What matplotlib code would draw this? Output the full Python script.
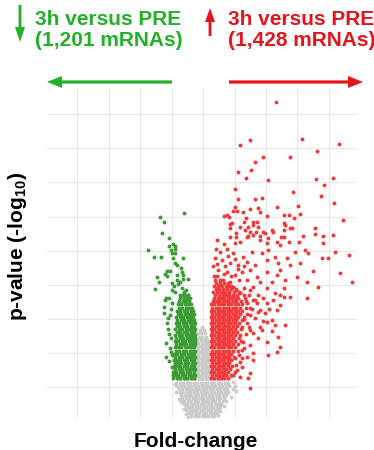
import matplotlib
matplotlib.use("Agg")
import matplotlib.pyplot as plt
from matplotlib.patches import FancyArrow
from matplotlib.transforms import IdentityTransform

plt.rcParams['font.family'] = ['Liberation Sans', 'DejaVu Sans']
plt.rcParams['mathtext.fontset'] = 'custom'
plt.rcParams['mathtext.rm'] = 'Liberation Sans:bold'
plt.rcParams['mathtext.bf'] = 'Liberation Sans:bold'
plt.rcParams['mathtext.default'] = 'rm'

# ---------------- data (log2 fold-change, -log10 p) ----------------
title_down = ["3h versus PRE", "(1,201 mRNAs)"]
title_up = ["3h versus PRE", "(1,428 mRNAs)"]
x_label = "Fold-change"
y_label = "p-value (-log$_{10}$)"
x_grid = [-4, -3, -2, -1, 0, 1, 2, 3, 4]
y_grid = [1, 2, 3, 4, 5, 6, 7, 8, 9]

# non-significant genes (grey): rows of (p, [fold-changes])
grey_rows = [
    (0.14, [-0.38, -0.27, -0.16, -0.05, 0.06, 0.17, 0.28, 0.36]),
    (0.23, [-0.45, -0.34, -0.23, -0.12, -0.01, 0.10, 0.21, 0.32, 0.42]),
    (0.32, [-0.50, -0.40, -0.29, -0.18, -0.07, 0.04, 0.15, 0.26, 0.37, 0.47]),
    (0.41, [-0.56, -0.45, -0.34, -0.23, -0.12, -0.01, 0.10, 0.21, 0.32, 0.43, 0.53]),
    (0.50, [-0.62, -0.51, -0.40, -0.29, -0.18, -0.07, 0.04, 0.15, 0.26, 0.37, 0.48, 0.58]),
    (0.59, [-0.60, -0.49, -0.38, -0.27, -0.16, -0.05, 0.06, 0.17, 0.28, 0.39, 0.50, 0.62]),
    (0.68, [-0.66, -0.55, -0.44, -0.33, -0.22, -0.11, 0.00, 0.11, 0.22, 0.33, 0.44, 0.55, 0.66]),
    (0.77, [-0.70, -0.59, -0.48, -0.37, -0.26, -0.15, -0.04, 0.07, 0.18, 0.29, 0.40, 0.51, 0.62, 0.72]),
    (0.86, [-0.74, -0.63, -0.52, -0.41, -0.30, -0.19, -0.08, 0.03, 0.14, 0.25, 0.36, 0.47, 0.58, 0.69, 0.80]),
    (0.95, [-0.78, -0.67, -0.56, -0.45, -0.34, -0.23, -0.12, -0.01, 0.10, 0.21, 0.32, 0.43, 0.54, 0.65, 0.76, 0.95]),
    (1.04, [-0.82, -0.71, -0.60, -0.49, -0.38, -0.27, -0.16, -0.05, 0.06, 0.17, 0.28, 0.39, 0.50, 0.61, 0.72, 0.84, 1.00]),
    (1.13, [-0.85, -0.74, -0.63, -0.52, -0.41, -0.30, -0.19, -0.08, 0.03, 0.14, 0.25, 0.36, 0.47, 0.58, 0.69, 0.80]),
    (1.22, [-0.80, -0.69, -0.58, -0.47, -0.36, -0.25, -0.14, -0.03, 0.08, 0.19, 0.30, 0.41, 0.52, 0.63, 0.76]),
    (1.31, [-0.20, -0.10, 0.00, 0.10, 0.18]),
    (1.40, [-0.16, -0.05, 0.05, 0.15]),
    (1.49, [-0.21, -0.10, 0.00, 0.10, 0.19]),
    (1.58, [-0.15, -0.05, 0.05, 0.15]),
    (1.67, [-0.20, -0.10, 0.00, 0.10, 0.18]),
    (1.76, [-0.16, -0.05, 0.05, 0.15]),
    (1.85, [-0.21, -0.10, 0.00, 0.10, 0.19]),
    (1.94, [-0.15, -0.05, 0.05, 0.15]),
    (2.03, [-0.20, -0.10, 0.00, 0.10, 0.18]),
    (2.12, [-0.16, -0.05, 0.05, 0.15]),
    (2.21, [-0.20, -0.10, 0.00, 0.10, 0.18]),
    (2.30, [-0.15, -0.05, 0.05, 0.15]),
    (2.39, [-0.18, -0.08, 0.02, 0.12]),
    (2.48, [-0.13, -0.02, 0.10]),
    (2.57, [-0.17, -0.06, 0.06]),
    (2.66, [-0.10, 0.02]),
    (2.76, [-0.05]),
]
grey_sparse = [
    (-0.70, 0.55), (0.68, 0.45), (-0.55, 0.22), (0.55, 0.30), (0.90, 0.70),
    (-0.85, 0.85), (1.05, 0.88), (0.95, 1.15), (-0.90, 1.08), (-0.62, 0.36),
    (0.72, 0.60), (-0.76, 0.66), (0.46, 0.18), (-0.48, 0.12), (0.88, 1.28),
]

# down-regulated genes (green), dense band rows + sparse points
green_rows = [
    (1.27, [-0.95, -0.84, -0.73, -0.62, -0.51, -0.40, -0.29]),
    (1.35, [-0.90, -0.79, -0.67, -0.57, -0.45, -0.34, -0.26]),
    (1.44, [-0.96, -0.85, -0.74, -0.63, -0.52, -0.41, -0.30]),
    (1.53, [-0.89, -0.78, -0.68, -0.56, -0.46, -0.35, -0.26]),
    (1.62, [-0.94, -0.83, -0.72, -0.61, -0.50, -0.39, -0.28]),
    (1.71, [-0.90, -0.80, -0.69, -0.58, -0.47, -0.36, -0.26]),
    (1.80, [-0.93, -0.84, -0.73, -0.62, -0.51, -0.40, -0.29]),
    (1.89, [-0.88, -0.77, -0.66, -0.55, -0.44, -0.34, -0.26]),
    (1.98, [-0.92, -0.82, -0.71, -0.60, -0.49, -0.38, -0.28]),
    (2.07, [-0.87, -0.76, -0.65, -0.54, -0.43, -0.33, -0.26]),
    (2.16, [-0.91, -0.80, -0.70, -0.59, -0.48, -0.37, -0.28]),
    (2.25, [-0.86, -0.75, -0.64, -0.53, -0.42, -0.32, -0.26]),
    (2.34, [-0.90, -0.79, -0.68, -0.57, -0.46, -0.36, -0.27]),
    (2.43, [-0.85, -0.74, -0.63, -0.52, -0.41, -0.31, -0.26]),
    (2.52, [-0.89, -0.78, -0.67, -0.56, -0.45, -0.35, -0.27]),
    (2.61, [-0.84, -0.73, -0.62, -0.51, -0.40, -0.30]),
    (2.70, [-0.88, -0.77, -0.66, -0.55, -0.44, -0.34, -0.27]),
    (2.79, [-0.83, -0.72, -0.61, -0.50, -0.39, -0.29]),
    (2.88, [-0.87, -0.76, -0.65, -0.54, -0.43, -0.33, -0.27]),
    (2.97, [-0.82, -0.71, -0.60, -0.49, -0.38, -0.29]),
    (3.06, [-0.85, -0.74, -0.63, -0.52, -0.42, -0.32]),
    (3.15, [-0.80, -0.69, -0.58, -0.47, -0.37, -0.29]),
    (3.24, [-0.83, -0.72, -0.61, -0.50, -0.40, -0.31]),
    (3.33, [-0.78, -0.67, -0.56, -0.45, -0.35]),
    (3.42, [-0.81, -0.70, -0.59, -0.48, -0.38]),
    (3.51, [-0.76, -0.65, -0.54, -0.44]),
    (3.60, [-0.72, -0.60, -0.50, -0.42]),
    (3.69, [-0.68, -0.57, -0.47]),
]
green_sparse = [
    (-1.37, 5.99), (-0.60, 6.09), (-1.26, 5.85), (-1.32, 5.51), (-1.07, 5.38),
    (-1.77, 5.02), (-1.56, 4.80), (-1.35, 4.80), (-1.07, 5.13), (-0.96, 5.18),
    (-0.91, 5.14), (-1.03, 5.02), (-0.91, 5.05), (-0.99, 4.92), (-0.89, 4.92),
    (-0.95, 4.77), (-0.63, 4.78), (-0.89, 4.63), (-0.84, 4.58), (-0.71, 4.50),
    (-1.14, 4.40), (-1.05, 4.40), (-0.68, 4.38), (-1.21, 4.31), (-1.14, 4.26),
    (-1.46, 4.22), (-0.84, 4.28), (-0.65, 4.28), (-0.47, 4.16), (-0.63, 4.17),
    (-0.84, 4.14), (-1.40, 4.07), (-0.98, 4.04), (-0.79, 4.02), (-0.73, 4.09),
    (-1.53, 3.86), (-0.98, 3.84), (-0.68, 3.89), (-0.61, 3.79), (-0.73, 3.70),
    (-1.19, 3.60), (-1.07, 3.62), (-0.47, 3.70), (-1.21, 3.55), (-1.24, 3.35),
    (-1.26, 3.16), (-1.11, 3.01), (-1.14, 2.87), (-1.11, 2.69), (-1.03, 2.43),
    (-1.18, 2.28), (-1.19, 1.89), (-1.03, 2.04), (-1.00, 1.60), (-0.95, 1.35),
    (-1.02, 3.28), (-1.08, 2.55), (-0.98, 3.45), (-1.05, 2.15), (-1.10, 1.75),
    (-1.00, 1.95), (-1.06, 3.10), (-0.88, 3.80), (-0.55, 3.85), (-0.92, 3.95),
]

# up-regulated genes (red), dense band rows + sparse points
red_rows = [
    (1.27, [0.24, 0.35, 0.46, 0.57, 0.68, 0.80]),
    (1.35, [0.29, 0.40, 0.51, 0.62, 0.74, 0.90]),
    (1.44, [0.24, 0.35, 0.46, 0.57, 0.68, 0.79, 1.02]),
    (1.53, [0.29, 0.40, 0.51, 0.62, 0.73, 0.85]),
    (1.62, [0.24, 0.35, 0.46, 0.57, 0.68, 0.79, 0.93]),
    (1.71, [0.29, 0.40, 0.51, 0.62, 0.73, 0.84]),
    (1.80, [0.24, 0.35, 0.46, 0.57, 0.68, 0.79, 0.90]),
    (1.89, [0.29, 0.40, 0.51, 0.62, 0.73, 0.84, 0.97]),
    (1.98, [0.24, 0.35, 0.46, 0.57, 0.68, 0.79, 0.90]),
    (2.07, [0.29, 0.40, 0.51, 0.62, 0.73, 0.84, 0.95, 1.10]),
    (2.16, [0.24, 0.35, 0.46, 0.57, 0.68, 0.79, 0.90, 1.02]),
    (2.25, [0.29, 0.40, 0.51, 0.62, 0.73, 0.84, 0.95]),
    (2.34, [0.24, 0.35, 0.46, 0.57, 0.68, 0.79, 0.90, 1.03]),
    (2.43, [0.29, 0.40, 0.51, 0.62, 0.73, 0.84, 0.96, 1.15]),
    (2.52, [0.24, 0.35, 0.46, 0.57, 0.68, 0.79, 0.90, 1.02]),
    (2.61, [0.29, 0.40, 0.51, 0.62, 0.73, 0.84, 0.95, 1.08]),
    (2.70, [0.24, 0.35, 0.46, 0.57, 0.68, 0.79, 0.90, 1.01, 1.20]),
    (2.79, [0.29, 0.40, 0.51, 0.62, 0.73, 0.84, 0.95, 1.07]),
    (2.88, [0.24, 0.35, 0.46, 0.57, 0.68, 0.79, 0.90, 1.01, 1.14]),
    (2.97, [0.29, 0.40, 0.51, 0.62, 0.73, 0.84, 0.95, 1.06, 1.25]),
    (3.06, [0.24, 0.35, 0.46, 0.57, 0.68, 0.79, 0.90, 1.01, 1.12, 1.30]),
    (3.15, [0.29, 0.40, 0.51, 0.62, 0.73, 0.84, 0.95, 1.06, 1.18, 1.40]),
    (3.24, [0.24, 0.35, 0.46, 0.57, 0.68, 0.79, 0.90, 1.01, 1.12, 1.24]),
    (3.33, [0.29, 0.40, 0.51, 0.62, 0.73, 0.84, 0.95, 1.06, 1.17, 1.35, 1.48]),
    (3.42, [0.26, 0.35, 0.46, 0.57, 0.68, 0.79, 0.90, 1.01, 1.12, 1.24]),
    (3.51, [0.30, 0.40, 0.51, 0.62, 0.73, 0.84, 0.95, 1.06, 1.20, 1.38]),
    (3.60, [0.34, 0.46, 0.57, 0.68, 0.79, 0.90, 1.01, 1.12]),
    (3.69, [0.38, 0.51, 0.62, 0.73, 0.84, 0.95, 1.08, 1.30]),
    (3.78, [0.32, 0.45, 0.57, 0.68, 0.82, 0.98, 1.15]),
    (3.87, [0.40, 0.52, 0.63, 0.76, 0.90, 1.05]),
    (3.96, [0.35, 0.48, 0.60, 0.72, 0.88]),
    (4.05, [0.42, 0.55, 0.68, 0.80]),
    (4.15, [0.38, 0.62]),
    (4.25, [0.45]),
]
red_sparse = [
    (2.33, 9.36), (1.50, 8.25), (1.17, 8.09), (3.16, 8.28), (4.33, 8.12),
    (3.62, 7.93), (1.92, 7.75), (2.77, 7.75), (1.65, 7.61), (1.52, 7.36),
    (1.11, 7.30), (1.37, 7.14), (2.07, 7.06), (3.61, 7.10), (4.15, 7.14),
    (3.85, 6.92), (1.00, 6.80), (2.86, 6.73), (3.74, 6.60), (1.11, 6.50),
    (1.65, 6.51), (1.86, 6.54), (4.16, 6.40), (3.02, 6.32), (1.03, 6.28),
    (1.74, 6.26), (1.50, 6.22), (4.47, 5.90), (4.15, 5.46), (3.82, 5.43),
    (3.57, 5.65), (3.57, 5.49), (3.19, 5.44), (3.09, 6.07), (2.88, 5.96),
    (2.56, 6.04), (2.74, 6.04), (2.56, 5.82), (2.77, 5.65), (2.59, 5.60),
    (2.24, 5.54), (2.03, 6.01), (1.82, 6.14), (1.37, 5.95), (1.58, 5.85),
    (1.73, 5.83), (1.28, 6.14), (1.07, 6.17), (0.95, 6.17), (0.84, 6.00),
    (0.68, 6.01), (0.86, 5.78), (1.18, 5.70), (1.44, 5.70), (1.76, 5.70),
    (1.98, 5.52), (1.69, 5.56), (1.50, 5.56), (1.82, 5.43), (1.44, 5.43),
    (1.05, 5.53), (1.05, 5.41), (1.31, 5.85), (2.61, 5.75), (2.47, 5.41),
    (2.35, 6.29), (0.75, 6.04), (0.91, 5.80), (1.60, 5.75), (1.92, 5.55),
    (2.19, 5.60), (2.82, 5.65), (0.86, 5.65), (1.34, 5.60), (0.65, 5.18),
    (1.02, 5.21), (1.18, 5.26), (1.39, 5.41), (1.60, 5.46), (1.82, 5.31),
    (2.03, 5.21), (2.35, 5.26), (2.45, 5.16), (2.72, 5.26), (3.04, 5.26),
    (3.83, 5.23), (2.56, 5.41), (2.08, 5.36), (0.38, 4.77), (0.60, 4.72),
    (0.96, 4.92), (1.28, 4.82), (1.55, 4.97), (1.87, 4.92), (2.08, 5.02),
    (2.29, 4.82), (2.67, 4.77), (2.93, 4.97), (3.25, 5.02), (3.35, 4.92),
    (3.78, 4.77), (3.99, 4.77), (4.20, 4.97), (4.63, 4.87), (0.86, 4.63),
    (1.12, 4.58), (1.39, 4.67), (1.66, 4.58), (2.03, 4.72), (2.40, 4.63),
    (2.77, 4.58), (3.09, 4.63), (3.51, 4.41), (0.49, 4.43), (0.75, 4.38),
    (1.02, 4.28), (1.23, 4.38), (1.50, 4.43), (1.71, 4.23), (2.03, 4.38),
    (2.35, 4.28), (2.61, 4.14), (2.98, 4.23), (3.30, 4.09), (4.36, 4.33),
    (4.74, 4.09), (0.54, 4.14), (0.86, 4.09), (1.39, 4.14), (1.82, 4.09),
    (2.19, 4.09), (2.45, 4.43), (0.44, 3.89), (0.70, 3.79), (0.96, 3.94),
    (1.18, 3.75), (1.50, 3.84), (1.76, 3.70), (2.03, 3.89), (2.29, 3.75),
    (2.56, 3.89), (2.77, 3.65), (3.30, 3.60), (3.67, 3.94), (0.60, 3.60),
    (0.91, 3.65), (1.34, 3.60), (1.60, 3.94), (0.30, 4.55), (0.45, 4.60),
    (0.70, 4.55), (0.80, 4.85), (0.55, 4.95), (0.40, 5.05), (0.75, 5.05),
    (1.00, 4.75), (1.10, 4.45), (1.30, 4.55), (0.65, 4.30), (0.35, 4.25),
    (0.90, 4.25), (1.15, 4.15), (0.55, 4.00), (0.80, 3.95), (1.05, 3.85),
    (1.30, 3.90), (1.45, 3.70), (1.60, 3.55), (0.45, 5.30), (0.85, 5.40),
    (2.56, 3.65), (2.45, 3.40), (2.61, 2.82), (2.29, 2.82), (2.03, 2.91),
    (2.19, 2.96), (1.82, 2.77), (1.60, 2.57), (1.87, 2.67), (2.40, 2.48),
    (2.03, 2.33), (1.76, 2.43), (1.50, 2.23), (1.23, 2.09), (1.60, 1.99),
    (2.45, 2.18), (2.35, 2.04), (2.08, 1.94), (1.39, 1.89), (1.18, 1.74),
    (1.50, 1.40), (1.44, 1.26), (1.07, 1.50), (1.23, 1.60), (0.96, 1.35),
    (1.02, 1.84), (1.28, 2.33), (1.50, 2.67), (1.18, 2.52), (1.39, 2.87),
    (1.66, 3.01), (1.97, 3.16), (2.35, 3.26), (1.82, 3.26), (1.50, 3.11),
    (2.03, 3.45), (2.24, 3.55), (1.71, 3.45), (1.60, 1.79), (1.18, 1.30),
    (1.50, 0.96), (1.55, 3.30), (1.65, 3.55), (1.40, 3.45), (1.75, 3.20),
    (1.30, 3.00), (1.45, 2.75), (1.25, 2.75), (1.35, 2.55), (1.20, 2.35),
    (1.10, 2.25), (1.30, 2.15), (1.15, 1.95), (1.05, 1.65), (1.25, 1.85),
    (1.92, 3.62), (2.10, 3.30), (1.90, 2.95), (2.20, 2.65), (2.45, 3.70),
]

# ---------------- colours / styles ----------------
c_grey = '#cbcbcb'
c_green = '#3b9c33'
c_red = '#f1393a'
c_title_green = '#22b026'
c_title_red = '#e3151b'
c_grid = '#e8e8e8'


def flatten_rows(rows):
    xs, ys = [], []
    for y, row in rows:
        for x in row:
            xs.append(x)
            ys.append(y)
    return xs, ys


gx, gy = flatten_rows(grey_rows)
gx += [p[0] for p in grey_sparse]
gy += [p[1] for p in grey_sparse]
dx, dy = flatten_rows(green_rows)
dx += [p[0] for p in green_sparse]
dy += [p[1] for p in green_sparse]
ux, uy = flatten_rows(red_rows)
ux += [p[0] for p in red_sparse]
uy += [p[1] for p in red_sparse]

W, H = 374, 450
fig = plt.figure(figsize=(W / 100, H / 100), dpi=100)
ax = fig.add_axes([47 / W, 32 / H, 310 / W, 330 / H])
ax.set_xlim(-4.97, 4.90)
ax.set_ylim(0.09, 9.77)
ax.set_xticks(x_grid)
ax.set_yticks(y_grid)
ax.grid(True, color=c_grid, linewidth=0.8)
ax.set_axisbelow(True)
ax.tick_params(length=0, labelbottom=False, labelleft=False)
for s in ax.spines.values():
    s.set_visible(False)

msize = 8
ax.scatter(gx, gy, s=msize, color=c_grey, linewidths=0, zorder=2)
ax.scatter(dx, dy, s=msize, color=c_green, linewidths=0, zorder=3)
ax.scatter(ux, uy, s=msize, color=c_red, linewidths=0, zorder=3)

# header texts and arrows (figure pixels, origin bottom-left)
tr = IdentityTransform()
fs = 15
fig.text(35, H - 25, title_down[0], transform=tr, color=c_title_green,
         fontsize=fs, fontweight='bold', ha='left', va='baseline')
fig.text(35, H - 46.5, title_down[1], transform=tr, color=c_title_green,
         fontsize=fs, fontweight='bold', ha='left', va='baseline')
fig.text(227.5, H - 25, title_up[0], transform=tr, color=c_title_red,
         fontsize=fs, fontweight='bold', ha='left', va='baseline')
fig.text(227.5, H - 46.5, title_up[1], transform=tr, color=c_title_red,
         fontsize=fs, fontweight='bold', ha='left', va='baseline')

fig.add_artist(FancyArrow(20, H - 5, 0, -37, width=2.8, head_width=10,
                          head_length=15, length_includes_head=True,
                          transform=tr, color=c_title_green, linewidth=0))
fig.add_artist(FancyArrow(210, H - 36, 0, 28, width=2.8, head_width=10,
                          head_length=14, length_includes_head=True,
                          transform=tr, color=c_title_red, linewidth=0))
fig.add_artist(FancyArrow(172, H - 82, -125, 0, width=3.2, head_width=12,
                          head_length=15, length_includes_head=True,
                          transform=tr, color=c_title_green, linewidth=0))
fig.add_artist(FancyArrow(229, H - 82, 134, 0, width=3.2, head_width=12,
                          head_length=15, length_includes_head=True,
                          transform=tr, color=c_title_red, linewidth=0))

fig.text(18, H - 246, y_label, transform=tr, rotation=90, fontsize=fs,
         fontweight='bold', ha='center', va='center', color='black')
fig.text(196, H - 447, x_label, transform=tr, fontsize=fs,
         fontweight='bold', ha='center', va='baseline', color='black')

fig.savefig('out.png', dpi=100)
